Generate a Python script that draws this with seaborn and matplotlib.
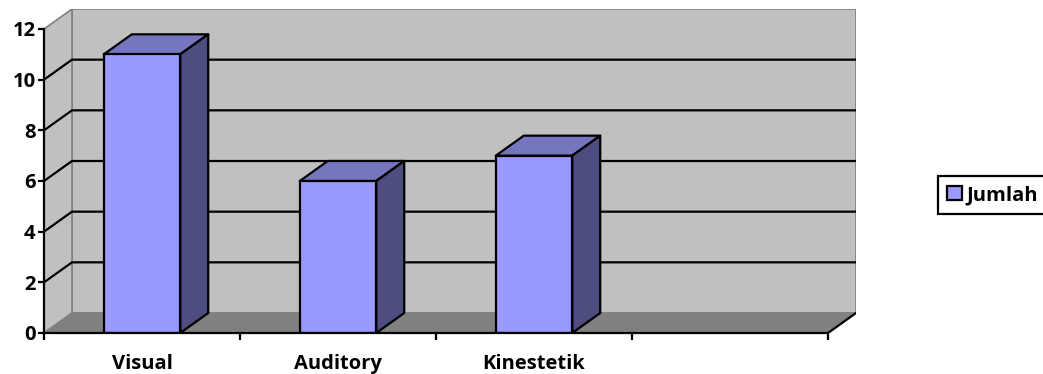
import matplotlib
matplotlib.use("Agg")
import matplotlib.pyplot as plt
import seaborn as sns
from matplotlib.patches import Polygon, Patch

# Data
categories = ['Visual', 'Auditory', 'Kinestetik']
jumlah = [11, 6, 7]
y_ticks = [0, 2, 4, 6, 8, 10, 12]
n_slots = 4  # chart has an empty 4th category slot

sns.set_style('white')
plt.rcParams['font.family'] = ['Open Sans', 'DejaVu Sans']
plt.rcParams['font.weight'] = 'bold'
plt.rcParams['text.color'] = 'black'
plt.rcParams['xtick.color'] = 'black'
plt.rcParams['ytick.color'] = 'black'

front = '#9999FF'
top_c = '#7676C0'
side_c = '#4D4D80'
wall = '#C0C0C0'
floor_c = '#808080'
fs = 14.5

fig = plt.figure(figsize=(10.43, 3.74), dpi=100)
W, H = 1043, 374
ax = fig.add_axes([44 / W, 1 - 333 / H, (856 - 44) / W, (333 - 9) / H])

# depth offset (in data units) for the fake 3D look
dx = 28 / 196
dy = 20 / (304 / 12)
x0, x1 = -0.5, n_slots - 0.5
ymax = y_ticks[-1]

# walls and floor
ax.add_patch(Polygon([(x0 + dx, dy), (x1 + dx, dy), (x1 + dx, ymax + dy), (x0 + dx, ymax + dy)],
                     facecolor=wall, edgecolor=floor_c, lw=1.2, zorder=0))
ax.add_patch(Polygon([(x0, 0), (x0 + dx, dy), (x0 + dx, ymax + dy), (x0, ymax)],
                     facecolor=wall, edgecolor=floor_c, lw=1.2, zorder=0))
for t in y_ticks[1:-1]:
    ax.plot([x0, x0 + dx, x1 + dx], [t, t + dy, t + dy], color='black', lw=1.6, zorder=0.5)
ax.add_patch(Polygon([(x0, 0), (x1, 0), (x1 + dx, dy), (x0 + dx, dy)],
                     facecolor=floor_c, edgecolor=floor_c, lw=1, zorder=0.6))
ax.plot([x1, x1 + dx], [0, dy], color='black', lw=1.6, zorder=0.7)

# bars
sns.barplot(x=categories, y=jumlah, color=front, saturation=1, width=0.39,
            edgecolor='black', linewidth=1.6, ax=ax, zorder=3)
for p in list(ax.patches):
    if not hasattr(p, 'get_width'):
        continue
    bx, bw, bh = p.get_x(), p.get_width(), p.get_height()
    ax.add_patch(Polygon([(bx, bh), (bx + bw, bh), (bx + bw + dx, bh + dy), (bx + dx, bh + dy)],
                         facecolor=top_c, edgecolor='black', lw=1.6, zorder=2.9, joinstyle='round'))
    ax.add_patch(Polygon([(bx + bw, 0), (bx + bw, bh), (bx + bw + dx, bh + dy), (bx + bw + dx, dy)],
                         facecolor=side_c, edgecolor='black', lw=1.6, zorder=2.9, joinstyle='round'))

ax.set_xlim(x0, x1 + dx)
ax.set_ylim(0, ymax + dy)
ax.set_facecolor('white')

for s in ['top', 'right']:
    ax.spines[s].set_visible(False)
ax.spines['left'].set_bounds(0, ymax)
ax.spines['bottom'].set_bounds(x0, x1)
for s in ['left', 'bottom']:
    ax.spines[s].set_color('black')
    ax.spines[s].set_linewidth(1.6)
    ax.spines[s].set_zorder(4)

ax.set_yticks(y_ticks)
ax.set_yticklabels([str(t) for t in y_ticks], fontsize=fs, fontweight='bold', color='black')
ax.tick_params(axis='y', length=4, width=1.6, pad=2, color='black', left=True)

ax.set_xticks(range(len(categories)))
ax.set_xticklabels(categories, fontsize=fs, fontweight='bold', color='black')
ax.tick_params(axis='x', which='major', length=0, pad=15)
ax.set_xticks([x0 + i for i in range(n_slots + 1)], minor=True)
ax.tick_params(axis='x', which='minor', length=5, width=1.6, color='black', bottom=True)
ax.set_xlabel('')
ax.set_ylabel('')

leg = fig.legend(handles=[Patch(facecolor=front, edgecolor='black', lw=1.6, label='Jumlah')],
                 loc='center left', bbox_to_anchor=(928 / W, 1 - 195 / H), frameon=True,
                 fancybox=False, edgecolor='black', framealpha=1, handlelength=0.75,
                 handleheight=0.75, handletextpad=0.2, borderpad=0.45,
                 prop={'weight': 'bold', 'size': fs}, labelcolor='black')
leg.get_frame().set_linewidth(1.6)

fig.savefig('out.png', dpi=100)
